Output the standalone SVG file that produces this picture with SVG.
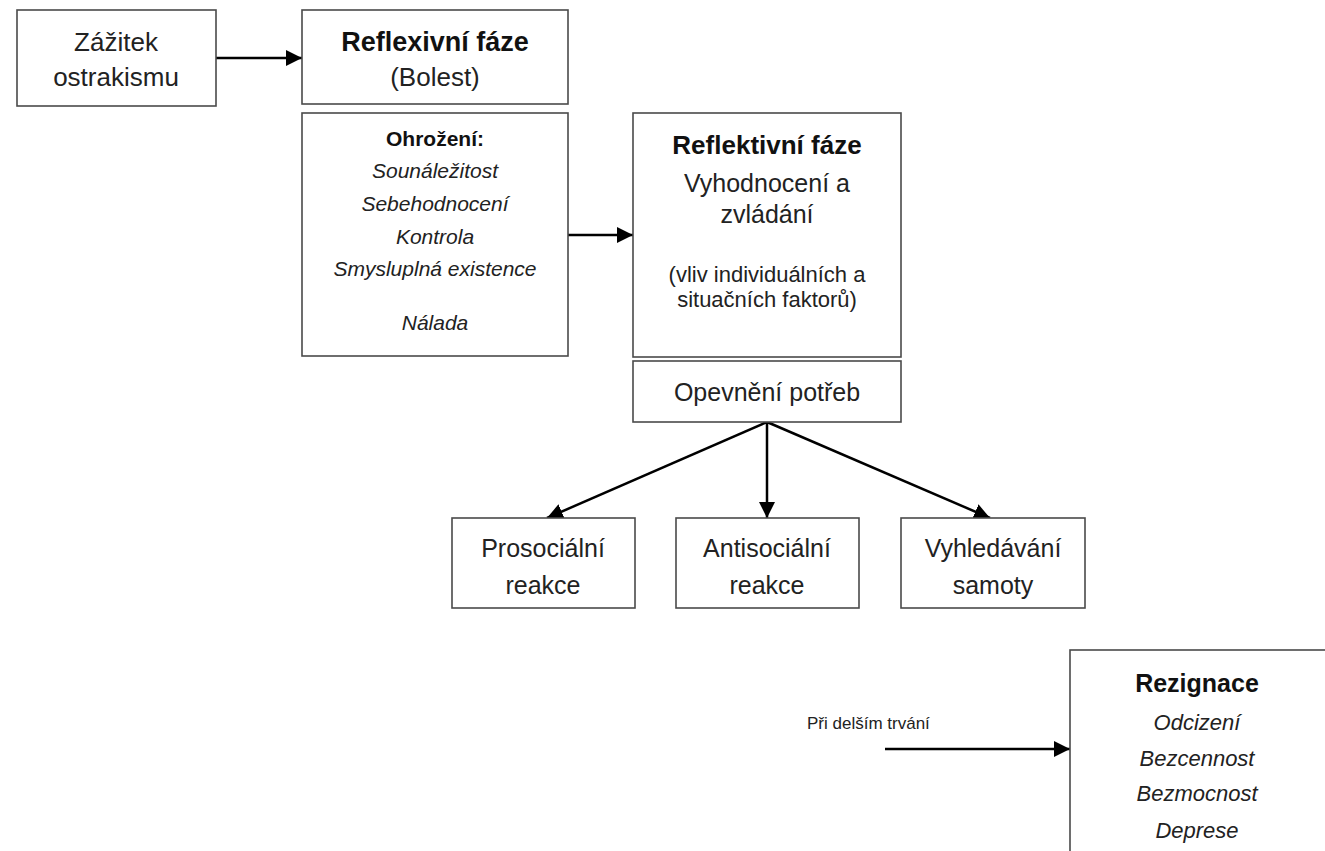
<svg xmlns="http://www.w3.org/2000/svg" width="1325" height="851" viewBox="0 0 1325 851">
<style>
.box{fill:#fff;stroke:#4a4a4a;stroke-width:1.6}
text{font-family:"Liberation Sans",Arial,sans-serif;fill:#222;text-anchor:middle}
.r{font-size:25px}
.b{font-size:26px;font-weight:bold;fill:#111}
.i{font-size:21px;font-style:italic}
.s{font-size:22px}
.c{stroke:#000;stroke-width:2.5;fill:none;marker-end:url(#ah)}
</style>
<defs>
<marker id="ah" markerUnits="userSpaceOnUse" markerWidth="18" markerHeight="16" refX="16" refY="8" orient="auto">
<path d="M0,0 L16,8 L0,16 Z" fill="#000"/>
</marker>
</defs>
<rect width="1325" height="851" fill="#fff"/>
<g id="connectors">
<line class="c" x1="216" y1="58" x2="302" y2="58"/>
<line class="c" x1="568" y1="235" x2="633" y2="235"/>
<line class="c" x1="767" y1="422" x2="547" y2="518"/>
<line class="c" x1="767" y1="422" x2="767" y2="518"/>
<line class="c" x1="767" y1="422" x2="990" y2="518"/>
<line class="c" x1="885" y1="749" x2="1070" y2="749"/>
</g>
<g id="zazitek">
<rect class="box" x="17" y="10" width="199" height="96"/>
<text class="r" x="116" y="51" style="font-size:26px">Zážitek</text>
<text class="r" x="116" y="86" style="font-size:26px">ostrakismu</text>
</g>
<g id="reflexivni">
<rect class="box" x="302" y="10" width="266" height="94"/>
<text class="b" x="435" y="51" style="font-size:27px">Reflexivní fáze</text>
<text class="r" x="435" y="86" style="font-size:26px">(Bolest)</text>
</g>
<g id="ohrozeni">
<rect class="box" x="302" y="113" width="266" height="243"/>
<text class="b" x="435" y="146" style="font-size:21px">Ohrožení:</text>
<text class="i" x="435" y="178">Sounáležitost</text>
<text class="i" x="435" y="211">Sebehodnocení</text>
<text class="i" x="435" y="244">Kontrola</text>
<text class="i" x="435" y="276">Smysluplná existence</text>
<text class="i" x="435" y="330">Nálada</text>
</g>
<g id="reflektivni">
<rect class="box" x="633" y="113" width="268" height="244"/>
<text class="b" x="767" y="154">Reflektivní fáze</text>
<text class="r" x="767" y="192">Vyhodnocení a</text>
<text class="r" x="767" y="223">zvládání</text>
<text class="s" x="767" y="282">(vliv individuálních a</text>
<text class="s" x="767" y="307">situačních faktorů)</text>
</g>
<g id="opevneni">
<rect class="box" x="633" y="361" width="268" height="61"/>
<text class="r" x="767" y="401">Opevnění potřeb</text>
</g>
<g id="prosocialni">
<rect class="box" x="452" y="518" width="183" height="90"/>
<text class="r" x="543" y="557">Prosociální</text>
<text class="r" x="543" y="594">reakce</text>
</g>
<g id="antisocialni">
<rect class="box" x="676" y="518" width="183" height="90"/>
<text class="r" x="767" y="557">Antisociální</text>
<text class="r" x="767" y="594">reakce</text>
</g>
<g id="vyhledavani">
<rect class="box" x="901" y="518" width="184" height="90"/>
<text class="r" x="993" y="557">Vyhledávání</text>
<text class="r" x="993" y="594">samoty</text>
</g>
<g id="rezignace">
<rect class="box" x="1070" y="650" width="264" height="220"/>
<text class="b" x="1197" y="692" style="font-size:25px">Rezignace</text>
<text class="i" x="1197" y="730" style="font-size:22px">Odcizení</text>
<text class="i" x="1197" y="766" style="font-size:22px">Bezcennost</text>
<text class="i" x="1197" y="801" style="font-size:22px">Bezmocnost</text>
<text class="i" x="1197" y="838" style="font-size:22px">Deprese</text>
</g>
<g id="label">
<text x="807" y="729" style="font-size:17px;text-anchor:start">Při delším trvání</text>
</g>
</svg>
